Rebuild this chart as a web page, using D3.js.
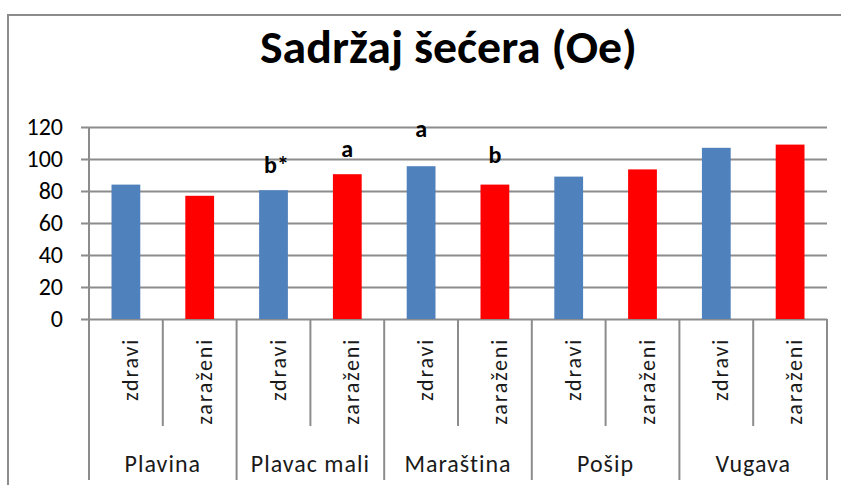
<!DOCTYPE html>
<html>
<head>
<meta charset="utf-8">
<script src="https://cdn.jsdelivr.net/npm/d3@7"></script>
<style>
  body { margin: 0; background: white; }
  text { font-family: Carlito, "Open Sans", sans-serif; }
</style>
</head>
<body>
<script>
// data
var varieties = ["Plavina", "Plavac mali", "Maraština", "Pošip", "Vugava"];
var groups = ["zdravi", "zaraženi"];
var zdravi = [84, 80.5, 95.5, 89, 107];
var zarazeni = [77, 90.5, 84, 93.5, 109];
var yTicks = [0, 20, 40, 60, 80, 100, 120];
// significance letters: [variety, group, text, level on the y scale]
var letters = [
  ["Plavac mali", "zdravi", "b*", 91.5],
  ["Plavac mali", "zaraženi", "a", 101.5],
  ["Maraština", "zdravi", "a", 114],
  ["Maraština", "zaraženi", "b", 97.5]
];

var colors = { "zdravi": "#4f81bd", "zaraženi": "#ff0000" };
var gridColor = "#8c8c8c";

var bars = [];
varieties.forEach((v, i) => {
  bars.push({ variety: v, group: "zdravi", value: zdravi[i] });
  bars.push({ variety: v, group: "zaraženi", value: zarazeni[i] });
});
var key = d => d.variety + "|" + d.group;

var width = 841, height = 485;
var plotLeft = 89, plotRight = 827, plotTop = 127, plotBottom = 319;

var svg = d3.select("body").append("svg")
  .attr("width", width)
  .attr("height", height);

// outer frame (cut at the right and bottom edge)
svg.append("path")
  .attr("d", "M8," + height + "V15H" + (width + 2))
  .attr("fill", "none")
  .attr("stroke", gridColor)
  .attr("stroke-width", 2);

svg.append("text")
  .attr("x", 448.5)
  .attr("y", 63)
  .attr("text-anchor", "middle")
  .attr("font-size", 46)
  .attr("font-weight", "bold")
  .attr("textLength", 377)
  .attr("lengthAdjust", "spacingAndGlyphs")
  .text("Sadržaj šećera (Oe)");

var y = d3.scaleLinear().domain([0, 120]).range([plotBottom, plotTop]);
var x = d3.scaleBand().domain(bars.map(key)).range([plotLeft, plotRight]).padding(0);
var xv = d3.scaleBand().domain(varieties).range([plotLeft, plotRight]).padding(0);
var barW = x.bandwidth() * 0.39;

// gridlines + y labels
var yAxis = svg.append("g")
  .attr("transform", "translate(" + (plotLeft - 8) + ",0)")
  .call(d3.axisLeft(y).tickValues(yTicks).tickSize(-(plotRight - plotLeft + 8)).tickPadding(18));
yAxis.select(".domain").remove();
yAxis.selectAll(".tick line").attr("stroke", gridColor).attr("stroke-width", 2);
yAxis.selectAll(".tick text")
  .attr("font-size", 24)
  .attr("fill", "#000")
  .style("font-family", "Carlito, 'Open Sans', sans-serif");

// bars
svg.selectAll("rect.bar")
  .data(bars)
  .enter()
  .append("rect")
  .classed("bar", true)
  .attr("x", d => x(key(d)) + (x.bandwidth() - barW) / 2)
  .attr("y", d => y(d.value))
  .attr("width", barW)
  .attr("height", d => y(0) - y(d.value))
  .attr("fill", d => colors[d.group]);

// category dividers
var lines = svg.append("g").attr("stroke", gridColor).attr("stroke-width", 2);
bars.forEach(d => {
  if (d.group == "zaraženi") {
    lines.append("line")
      .attr("x1", x(key(d))).attr("x2", x(key(d)))
      .attr("y1", plotBottom).attr("y2", 426);
  }
});
varieties.concat([null]).forEach(v => {
  var xx = v ? xv(v) : plotRight;
  lines.append("line")
    .attr("x1", xx).attr("x2", xx)
    .attr("y1", v == varieties[0] ? plotTop : plotBottom).attr("y2", 480);
});

// rotated group labels
svg.selectAll("text.group")
  .data(bars)
  .enter()
  .append("text")
  .classed("group", true)
  .attr("transform", d => "translate(" + (x(key(d)) + x.bandwidth() / 2 + 12) + ",338) rotate(-90)")
  .attr("text-anchor", "end")
  .attr("font-size", 22)
  .attr("letter-spacing", 1.8)
  .attr("fill", "#1a1a1a")
  .text(d => d.group);

// variety labels
svg.selectAll("text.variety")
  .data(varieties)
  .enter()
  .append("text")
  .classed("variety", true)
  .attr("x", d => xv(d) + xv.bandwidth() / 2)
  .attr("y", 472)
  .attr("text-anchor", "middle")
  .attr("font-size", 24)
  .attr("letter-spacing", 1)
  .attr("fill", "#1a1a1a")
  .text(d => d);

// significance letters
svg.selectAll("text.letter")
  .data(letters)
  .enter()
  .append("text")
  .classed("letter", true)
  .attr("x", d => x(d[0] + "|" + d[1]) + x.bandwidth() / 2 + (d[2] == "b*" ? 3 : 0))
  .attr("y", d => y(d[3]))
  .attr("text-anchor", "middle")
  .attr("font-size", 24)
  .attr("font-weight", "bold")
  .text(d => d[2]);
</script>
</body>
</html>
